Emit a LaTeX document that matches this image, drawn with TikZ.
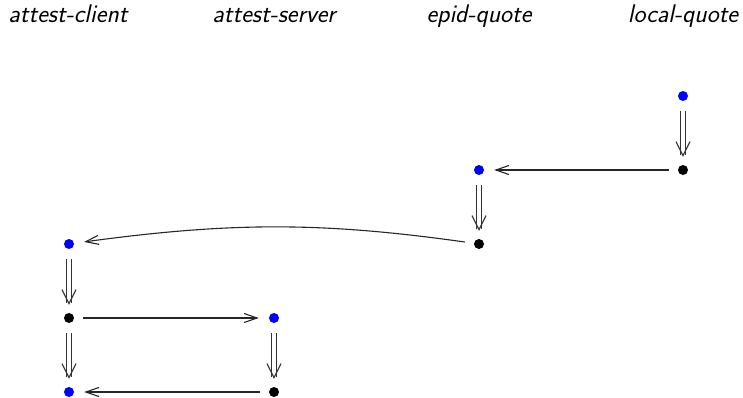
\documentclass[tikz,border=0pt]{standalone}
\usetikzlibrary{arrows.meta,bending}
\begin{document}
\begin{tikzpicture}[x=1pt,y=-1pt,
  dotb/.style={circle,fill=blue,inner sep=0pt,minimum size=10pt},
  dotk/.style={circle,fill=black,inner sep=0pt,minimum size=10pt},
  lane/.style={font=\fontsize{25.5}{30}\selectfont\sffamily\itshape, anchor=base, inner sep=0pt},
  msg/.style={line width=1.1pt, draw={black!85}, -{Straight Barb[length=13pt,width=9pt]}, shorten >=10pt, shorten <=9pt},
  impl/.style={double, double distance=3.6pt, line width=1.1pt, draw={black!80}, shorten >=10pt, shorten <=10pt},
  impltip/.style={draw=white, line width=1pt, -{Straight Barb[length=14pt,width=14pt,color=black!80,line width=1.1pt]}, shorten >=8pt, shorten <=30pt}]
\useasboundingbox (0,0) rectangle (743,398);
\node[lane] (l1) at (68,23) {attest-client};
\node[lane] (l2) at (274,23) {attest-server};
\node[lane] (l3) at (479,23) {epid-quote};
\node[lane] (l4) at (683,23) {local-quote};
\node[dotb] (a) at (683,96) {};
\node[dotk] (b) at (683,170) {};
\node[dotb] (c) at (479,170) {};
\node[dotk] (d) at (479,244) {};
\node[dotb] (e) at (69,244) {};
\node[dotk] (f) at (69,318) {};
\node[dotb] (g) at (274,318) {};
\node[dotk] (h) at (274,392) {};
\node[dotb] (i) at (69,392) {};
\draw[impl] (a) -- (b);
\draw[impltip] (a) -- (b);
\draw[msg] (b) -- (c);
\draw[impl] (c) -- (d);
\draw[impltip] (c) -- (d);
\draw[msg] (d) to[bend right=8] (e);
\draw[impl] (e) -- (f);
\draw[impltip] (e) -- (f);
\draw[msg] (f) -- (g);
\draw[impl] (f) -- (i);
\draw[impltip] (f) -- (i);
\draw[impl] (g) -- (h);
\draw[impltip] (g) -- (h);
\draw[msg] (h) -- (i);
\end{tikzpicture}
\end{document}
